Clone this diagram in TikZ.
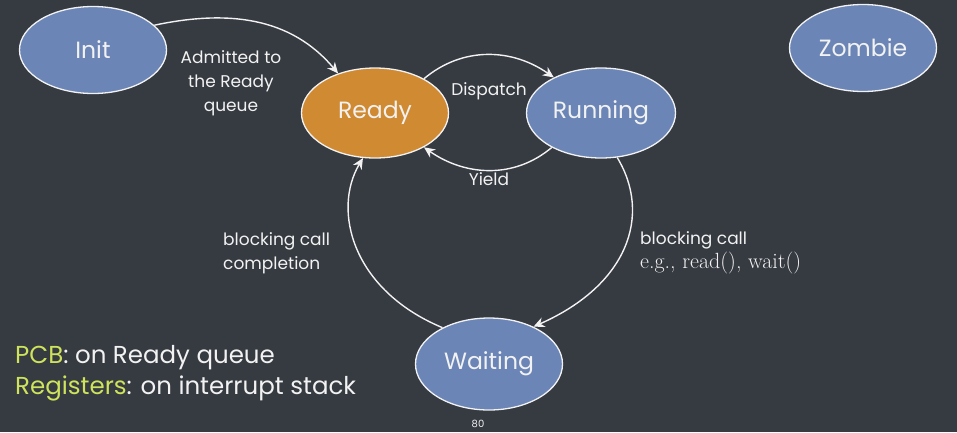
\documentclass[tikz,border=0pt]{standalone}
\usepackage{fontspec}
\setmainfont{Poppins}
\newfontfamily\codefont{Latin Modern Roman}
\usetikzlibrary{arrows.meta,shapes.geometric}
\definecolor{board}{HTML}{363A41}
\definecolor{stateblue}{HTML}{6B86B6}
\definecolor{stateorange}{HTML}{D08A32}
\definecolor{chalk}{HTML}{F2F2F2}
\definecolor{lime}{HTML}{CDE35C}
\tikzset{
  state/.style={ellipse, draw=chalk, line width=1.3pt, fill=stateblue,
    minimum width=147pt, minimum height=87pt, inner sep=0pt,
    text=chalk, font=\fontsize{23.5}{26}\selectfont},
  chalkarrow/.style={draw=chalk, line width=1.4pt,
    -{Stealth[length=11pt,width=10pt]}},
  edgelabel/.style={text=chalk, font=\fontsize{17}{24}\selectfont, inner sep=0pt},
  notetext/.style={text=chalk, font=\fontsize{24.5}{31}\selectfont, inner sep=0pt, anchor=west, align=left}
}
\begin{document}
\begin{tikzpicture}[x=1pt,y=-1pt]
  \fill[board] (0,0) rectangle (957,432);
  \useasboundingbox (0,0) rectangle (957,432);

  % process states
  \node[state] (init) at (93,50) {Init};
  \node[state] (zombie) at (863,48) {Zombie};
  \node[state, fill=stateorange, minimum height=90pt] (ready) at (375,113) {Ready};
  \node[state, minimum height=90pt, minimum width=149pt] (running) at (601,113) {Running};
  \node[state, minimum height=92pt] (waiting) at (489,364) {Waiting};

  % transitions
  \draw[chalkarrow] (init.22) to[out=12, in=130] (ready.133);
  \draw[chalkarrow] (ready.35) to[out=40, in=145] (running.143);
  \draw[chalkarrow] (running.215) to[out=-140, in=-35] (ready.-35);
  \draw[chalkarrow] (running.-70) .. controls (652,215) and (628,285) .. (waiting.40);
  \draw[chalkarrow] (waiting.142) .. controls (352,290) and (332,210) .. (ready.-105);

  % transition labels
  \node[edgelabel, align=center] (admit) at (231,83) {Admitted to\\the Ready\\queue};
  \node[edgelabel] (dispatch) at (489,91) {Dispatch};
  \node[edgelabel] (yield) at (489,179) {Yield};
  \node[edgelabel, anchor=west, align=left] (complete) at (223,253) {blocking call\\completion};
  \node[edgelabel, anchor=west, align=left] (block) at (640,253)
    {blocking call\\{\codefont\fontsize{22}{24}\selectfont e.g., read(), wait()}};

  % notes
  \node[notetext] (notes) at (15,373)
    {{\color{lime}PCB}: on Ready queue\\{\color{lime}Registers}: on interrupt stack};
  \node[text=chalk, font=\fontsize{10}{10}\selectfont, inner sep=0pt] (page) at (478,424) {80};
\end{tikzpicture}
\end{document}
